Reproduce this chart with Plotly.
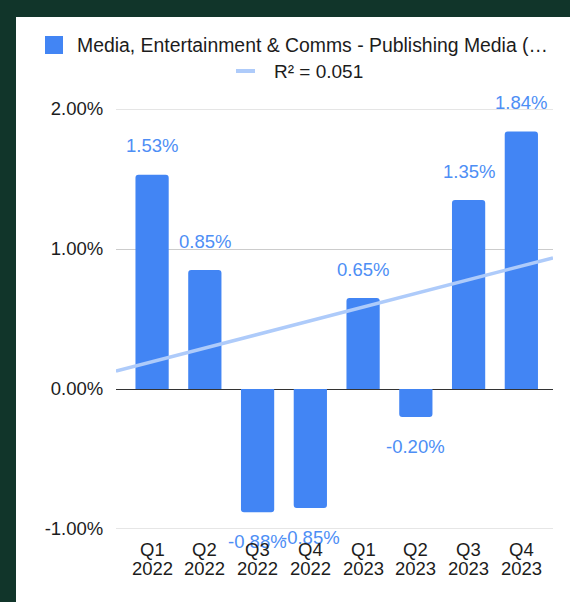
import numpy as np
import plotly.graph_objects as go

# Quarterly change, publishing media segment (percent)
quarters = ["Q1", "Q2", "Q3", "Q4", "Q1", "Q2", "Q3", "Q4"]
years = ["2022", "2022", "2022", "2022", "2023", "2023", "2023", "2023"]
values = [1.53, 0.85, -0.88, -0.85, 0.65, -0.20, 1.35, 1.84]

y_tick_vals = [-1, 0, 1, 2]
y_tick_text = ["-1.00%", "0.00%", "1.00%", "2.00%"]

series_name = "Media, Entertainment & Comms - Publishing Media (\u2026"

BAR_BLUE = "#4285f4"
LABEL_BLUE = "#4d8ef5"
TREND_BLUE = "#aecbfa"
BORDER_GREEN = "#11352a"
TEXT = "#1c1c1c"
GRID = "#cccccc"
FONT = "Liberation Sans"
FS = 18.5

W, H = 570, 602
ML, MR, MT, MB = 116, 17, 109, 73
PW, PH = W - ML - MR, H - MT - MB

idx = np.arange(len(values))
x_range = [-0.684, 7.6]
y_range = [min(y_tick_vals), max(y_tick_vals)]

# Linear trend fitted over the quarter index
slope, intercept = np.polyfit(idx, values, 1)
pred = slope * idx + intercept
vals = np.array(values)
r2 = 1 - np.sum((vals - pred) ** 2) / np.sum((vals - vals.mean()) ** 2)
trend_x = np.array(x_range)
trend_y = slope * trend_x + intercept


def px_x(p):
    return (p - ML) / PW


def px_y(p):
    return (H - MB - p) / PH


fig = go.Figure()

fig.add_trace(go.Scatter(
    x=trend_x, y=trend_y, mode="lines",
    line=dict(color=TREND_BLUE, width=3.5),
    hoverinfo="skip", showlegend=False,
))

fig.add_trace(go.Bar(
    x=idx, y=values, width=0.63,
    marker=dict(color=BAR_BLUE, cornerradius=3, line=dict(width=0)),
    showlegend=False,
))

annotations = []
# value labels
for i, v in zip(idx, values):
    annotations.append(dict(
        x=i, y=v, xref="x", yref="y", text=f"{v:.2f}%",
        showarrow=False, yanchor="middle", xanchor="center",
        yshift=29 if v >= 0 else -29,
        font=dict(family=FONT, size=FS, color=LABEL_BLUE),
    ))
# two-line category labels
for i, q, yr in zip(idx, quarters, years):
    annotations.append(dict(
        x=i, y=px_y(549), xref="x", yref="paper", text=q,
        showarrow=False, yanchor="middle", xanchor="center",
        font=dict(family=FONT, size=FS, color=TEXT),
    ))
    annotations.append(dict(
        x=i, y=px_y(568), xref="x", yref="paper", text=yr,
        showarrow=False, yanchor="middle", xanchor="center",
        font=dict(family=FONT, size=FS, color=TEXT),
    ))
# legend texts
annotations.append(dict(
    x=px_x(75), y=px_y(45), xref="paper", yref="paper", text=series_name,
    showarrow=False, xanchor="left", yanchor="middle",
    font=dict(family=FONT, size=19.4, color=TEXT),
))
annotations.append(dict(
    x=px_x(272), y=px_y(71), xref="paper", yref="paper",
    text=f"R\u00b2 = {r2:.3f}",
    showarrow=False, xanchor="left", yanchor="middle",
    font=dict(family=FONT, size=19, color=TEXT),
))

shapes = [
    # white card on the dark background
    dict(type="rect", xref="paper", yref="paper", layer="below",
         x0=px_x(16), x1=px_x(W + 2), y0=px_y(H + 2), y1=px_y(17),
         fillcolor="white", line=dict(width=0)),
    # legend swatches
    dict(type="rect", xref="paper", yref="paper",
         x0=px_x(45), x1=px_x(63), y0=px_y(54), y1=px_y(36),
         fillcolor=BAR_BLUE, line=dict(width=0)),
    dict(type="line", xref="paper", yref="paper",
         x0=px_x(236), x1=px_x(255), y0=px_y(71), y1=px_y(71),
         line=dict(color=TREND_BLUE, width=4)),
]
# gridlines at the ends of the value range
for yv in (y_range[0], y_range[1]):
    shapes.append(dict(type="line", xref="paper", yref="y", layer="below",
                       x0=0, x1=1, y0=yv, y1=yv,
                       line=dict(color=GRID, width=1)))

fig.update_layout(
    width=W, height=H,
    margin=dict(l=ML, r=MR, t=MT, b=MB, pad=0),
    paper_bgcolor=BORDER_GREEN,
    plot_bgcolor="white",
    font=dict(family=FONT, size=FS, color=TEXT),
    showlegend=False,
    annotations=annotations,
    shapes=shapes,
    xaxis=dict(range=x_range, showgrid=False, zeroline=False,
               showticklabels=False, ticks="", showline=False,
               fixedrange=True),
    yaxis=dict(range=y_range, tickvals=y_tick_vals, ticktext=y_tick_text,
               showgrid=True, gridcolor=GRID, gridwidth=1,
               zeroline=True, zerolinecolor="#333333", zerolinewidth=1,
               showline=False, ticks="outside", ticklen=8,
               tickcolor="rgba(0,0,0,0)",
               tickfont=dict(family=FONT, size=FS, color=TEXT),
               fixedrange=True),
)

fig.write_html("out.html")
